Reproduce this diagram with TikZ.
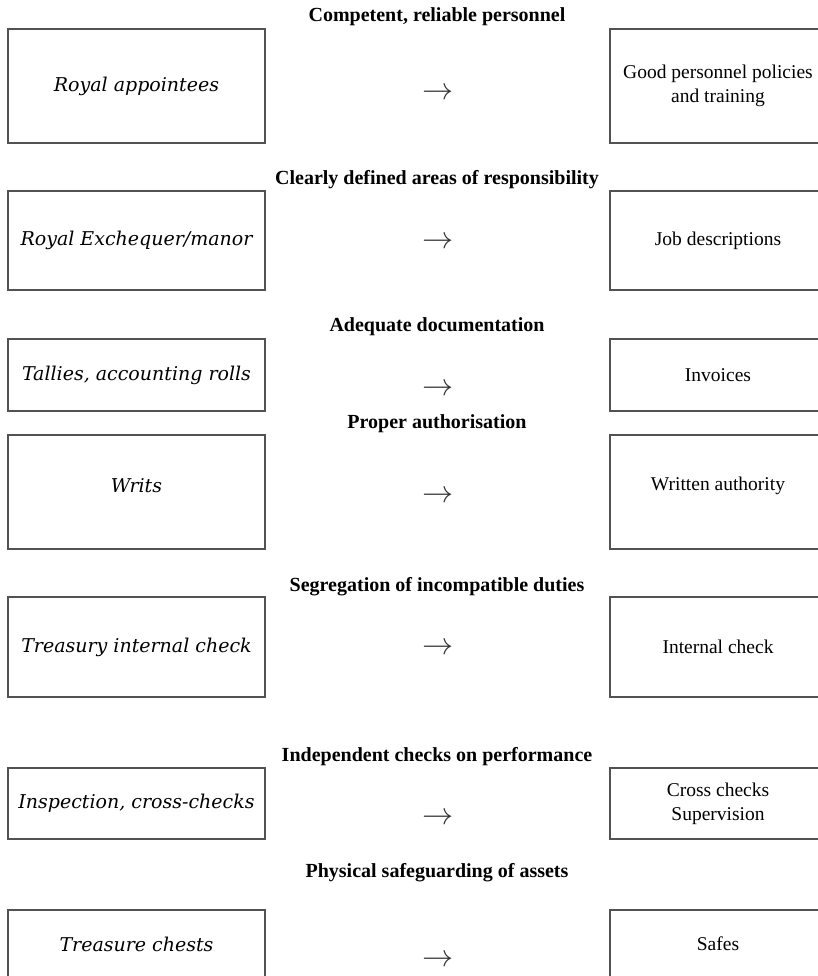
\documentclass[tikz,border=0pt]{standalone}
\usepackage{fontspec}
\setmainfont{Liberation Serif}
\newfontfamily\bookit{DejaVu Serif}
\tikzset{
  frame/.style={draw=black!68, line width=1.3pt, rectangle, inner sep=0pt, align=center},
  lbox/.style={frame, minimum width=257pt, font=\bookit\itshape\fontsize{19}{23}\selectfont},
  rbox/.style={frame, minimum width=216pt, font=\fontsize{19.5}{24}\selectfont},
  head/.style={font=\bfseries\fontsize{20}{24}\selectfont, inner sep=0pt},
  arr/.style={font=\fontsize{20}{24}\selectfont, scale=1.5, text=black!80, inner sep=0pt}
}
\begin{document}
\begin{tikzpicture}[x=1pt,y=-1pt]
\useasboundingbox (0,0) rectangle (818,976);
\clip (0,0) rectangle (818,976);
% row 1
\node[head] (h1) at (437,17) {Competent, reliable personnel};
\node[lbox, minimum height=114pt] (l1) at (136.5,86) {Royal appointees};
\node[arr] (a1) at (438,93.5) {$\rightarrow$};
\node[rbox, minimum height=114pt] (r1) at (718,86) {Good personnel policies\\and training};
% row 2
\node[head] (h2) at (437,180) {Clearly defined areas of responsibility};
\node[lbox, minimum height=99pt] (l2) at (136.5,240.5) {Royal Exchequer/manor};
\node[arr] (a2) at (438,242.5) {$\rightarrow$};
\node[rbox, minimum height=99pt] (r2) at (718,240.5) {Job descriptions};
% row 3
\node[head] (h3) at (437,327) {Adequate documentation};
\node[lbox, minimum height=72pt] (l3) at (136.5,375) {Tallies, accounting rolls};
\node[arr] (a3) at (438,389.5) {$\rightarrow$};
\node[rbox, minimum height=72pt] (r3) at (718,375) {Invoices};
% row 4
\node[head] (h4) at (437,424) {Proper authorisation};
\node[lbox, minimum height=114pt, text depth=12pt] (l4) at (136.5,492) {Writs};
\node[arr] (a4) at (438,496.5) {$\rightarrow$};
\node[rbox, minimum height=114pt, text depth=16pt] (r4) at (718,492) {Written authority};
% row 5
\node[head] (h5) at (437,587) {Segregation of incompatible duties};
\node[lbox, minimum height=100pt] (l5) at (136.5,647) {Treasury internal check};
\node[arr] (a5) at (438,648.5) {$\rightarrow$};
\node[rbox, minimum height=100pt] (r5) at (718,647) {Internal check};
% row 6
\node[head] (h6) at (437,757) {Independent checks on performance};
\node[lbox, minimum height=71pt] (l6) at (136.5,803.5) {Inspection, cross-checks};
\node[arr] (a6) at (438,818.5) {$\rightarrow$};
\node[rbox, minimum height=71pt] (r6) at (718,803.5) {Cross checks\\Supervision};
% row 7
\node[head] (h7) at (437,873) {Physical safeguarding of assets};
\node[lbox, minimum height=68pt] (l7) at (136.5,944) {Treasure chests};
\node[arr] (a7) at (438,960.5) {$\rightarrow$};
\node[rbox, minimum height=68pt] (r7) at (718,944) {Safes};
\end{tikzpicture}
\end{document}
